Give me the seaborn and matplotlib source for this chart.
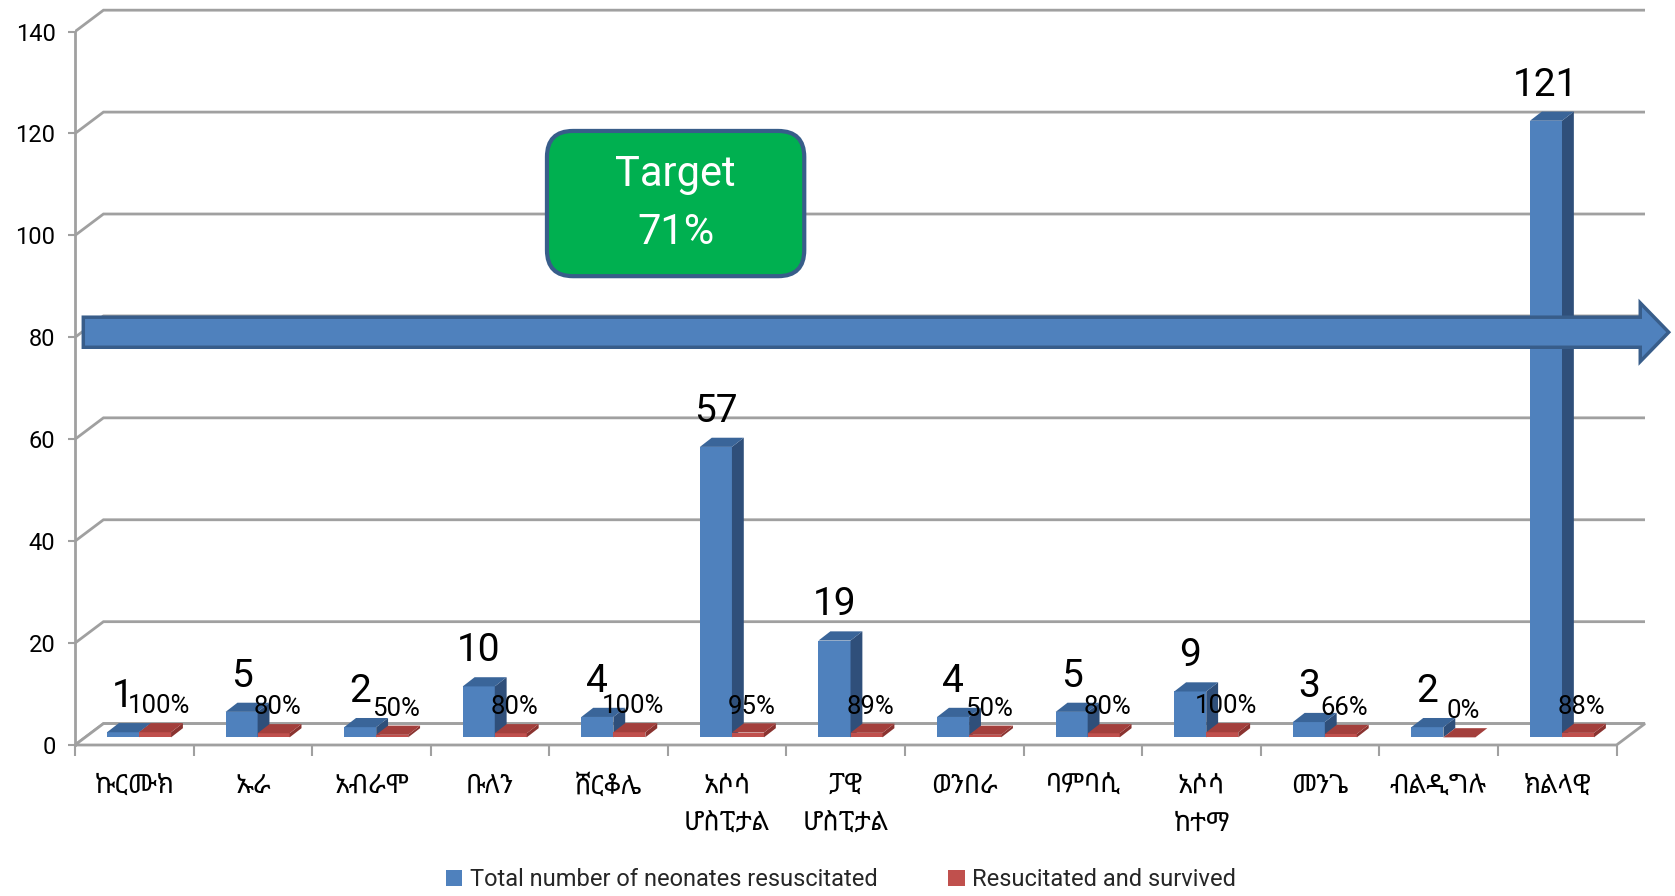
import numpy as np
import pandas as pd
import matplotlib
matplotlib.use("Agg")
import matplotlib.pyplot as plt
import seaborn as sns
from matplotlib import font_manager
from matplotlib.ft2font import FT2Font
from matplotlib.patches import Polygon, FancyBboxPatch, FancyArrow, Patch

# 데이터
sites = ["ኩርሙክ", "ኡራ", "አብራሞ", "ቡለን", "ሸርቆሌ", "አሶሳ\nሆስፒታል", "ፓዊ\nሆስፒታል",
         "ወንበራ", "ባምባሲ", "አሶሳ\nከተማ", "መንጌ", "ብልዲግሉ", "ክልላዊ"]
total_resuscitated = [1, 5, 2, 10, 4, 57, 19, 4, 5, 9, 3, 2, 121]
survived_pct = [100, 80, 50, 80, 100, 95, 89, 50, 80, 100, 66, 0, 88]
series_names = ["Total number of neonates resuscitated", "Resucitated and survived"]
y_ticks = [0, 20, 40, 60, 80, 100, 120, 140]
target_text = "Target\n71%"
target_level = 81

BLUE = "#4F81BD"
RED = "#C0504D"

# 글꼴: 에티오피아 문자 지원 글꼴 찾기 (고정폭 글꼴은 뒤로)
names = {f.name for f in font_manager.fontManager.ttflist}
main_font = "Liberation Sans Narrow" if "Liberation Sans Narrow" in names else "Roboto"
eth_candidates = []
for f in font_manager.fontManager.ttflist:
    try:
        if 0x12A0 in FT2Font(f.fname).get_charmap():
            eth_candidates.append(f.name)
    except Exception:
        pass
preferred = ["Noto Sans Ethiopic", "Abyssinica SIL", "FreeSans", "DejaVu Sans", "FreeSerif"]
eth_font = None
for p in preferred:
    if p in eth_candidates:
        eth_font = p
        break
if eth_font is None:
    non_mono = [c for c in eth_candidates if "Mono" not in c]
    if non_mono:
        eth_font = non_mono[0]
    elif eth_candidates:
        eth_font = eth_candidates[0]

sns.set_theme(style="white")
fam = [main_font] + ([eth_font] if eth_font else []) + ["DejaVu Sans"]
plt.rcParams["font.family"] = fam

df = pd.DataFrame({
    "site": sites * 2,
    "series": [series_names[0]] * len(sites) + [series_names[1]] * len(sites),
    "value": total_resuscitated + [p / 100 for p in survived_pct],
})

W, H = 1675, 896
fig = plt.figure(figsize=(W / 100, H / 100), dpi=100)
ax_l, ax_b = 75 / W, 1 - 745 / H
ax_w, ax_h = (1645 - 75) / W, 744 / H
ax = fig.add_axes([ax_l, ax_b, ax_w, ax_h])

sns.barplot(data=df, x="site", y="value", hue="series", palette=[BLUE, RED],
            width=0.54, saturation=1, legend=False, ax=ax, zorder=2)

n = len(sites)
DEPTH_X, DEPTH_Y = 0.24, 4.2   # 뒷벽 오프셋
BAR_DX, BAR_DY = 0.1, 1.8      # 막대 입체 깊이
BAR_BASE = 1.5                 # 바닥 중간에 놓인 막대
xlim = (-0.5, n - 0.5 + DEPTH_X)
ylim = (0, 146)
ax.set_xlim(*xlim)
ax.set_ylim(*ylim)

# 막대 입체 효과
faces = {0: ("#3A6599", "#2F4F7A"), 1: ("#A33F3C", "#8A3330")}
for k, cont in enumerate(ax.containers):
    top_c, side_c = faces[k]
    for bar in cont:
        bar.set_x(bar.get_x() + 0.04)
        bar.set_y(BAR_BASE)
        bar.set_edgecolor("none")
        bar.set_zorder(2 + k)
        x0, w, h = bar.get_x(), bar.get_width(), bar.get_height()
        y0, y1 = BAR_BASE, BAR_BASE + h
        side = Polygon([(x0 + w, y0), (x0 + w + BAR_DX, y0 + BAR_DY),
                        (x0 + w + BAR_DX, y1 + BAR_DY), (x0 + w, y1)],
                       closed=True, fc=side_c, ec="none", zorder=2 + k)
        top = Polygon([(x0, y1), (x0 + BAR_DX, y1 + BAR_DY),
                       (x0 + w + BAR_DX, y1 + BAR_DY), (x0 + w, y1)],
                      closed=True, fc=top_c, ec="none", zorder=2 + k)
        ax.add_patch(side)
        ax.add_patch(top)

# 값 레이블
for bar, v in zip(ax.containers[0], total_resuscitated):
    ax.text(bar.get_x() + bar.get_width() / 2, v + 8.5, str(v),
            ha="center", va="center", fontsize=28, color="black", zorder=7)
for bar, p in zip(ax.containers[1], survived_pct):
    ax.text(bar.get_x() + bar.get_width() / 2 + 0.03, p / 100 + 6.6, f"{p}%",
            ha="center", va="center", fontsize=18.5, color="black", zorder=7)

# 격자선(뒷벽)과 바닥
grid_c = "#A0A0A0"
for v in y_ticks:
    ax.plot([-0.5, -0.5 + DEPTH_X, n - 0.5 + DEPTH_X], [v, v + DEPTH_Y, v + DEPTH_Y],
            color=grid_c, lw=2, zorder=0.5, solid_joinstyle="miter")
floor = Polygon([(-0.5, 0), (n - 0.5, 0), (n - 0.5 + DEPTH_X, DEPTH_Y), (-0.5 + DEPTH_X, DEPTH_Y)],
                closed=True, fc="white", ec=grid_c, lw=2, zorder=0.6, clip_on=False)
ax.add_patch(floor)

# 축
for s in ["top", "right", "bottom"]:
    ax.spines[s].set_visible(False)
ax.spines["left"].set_color(grid_c)
ax.spines["left"].set_linewidth(2)
ax.spines["left"].set_bounds(0, 140)
ax.set_yticks(y_ticks)
ax.tick_params(axis="y", direction="out", length=5, width=1.5, color=grid_c,
               labelsize=17, labelcolor="black", pad=9, left=True)
ax.set_xticks(range(n))
ax.set_xticklabels(sites, linespacing=1.7)
ax.set_xticks(np.arange(-0.5, n, 1.0), minor=True)
ax.tick_params(axis="x", which="major", length=0, labelsize=19, labelcolor="black", pad=21)
ax.tick_params(axis="x", which="minor", direction="out", length=8, width=1.5,
               color=grid_c, bottom=True)
for lab in ax.get_xticklabels():
    lab.set_verticalalignment("top")
ax.set_xlabel("")
ax.set_ylabel("")
ax.grid(False)

# 목표 상자
aspect = ((ylim[1] - ylim[0]) / (ax_h * H)) / ((xlim[1] - xlim[0]) / (ax_w * W))
box = FancyBboxPatch((3.48, 92), 2.17, 28.5, boxstyle="round,pad=0,rounding_size=0.22",
                     mutation_aspect=aspect, fc="#00B050", ec="#385D8A", lw=3, zorder=6)
ax.add_patch(box)
ax.text(3.48 + 2.17 / 2, 92 + 28.5 / 2, target_text, ha="center", va="center",
        color="white", fontsize=30, linespacing=1.55, zorder=7)

# 목표 화살표
arrow = FancyArrow(-0.43, target_level, 13.37, 0, width=5.9, head_width=11.5,
                   head_length=0.24, length_includes_head=True, fc=BLUE,
                   ec="#385D8A", lw=2.5, zorder=6, clip_on=False)
ax.add_patch(arrow)

# 범례
handles = [Patch(fc=BLUE, ec="none"), Patch(fc=RED, ec="none")]
fig.legend(handles, series_names, loc="center", bbox_to_anchor=(0.502, 0.018),
           ncol=2, frameon=False, fontsize=17, handlelength=0.7, handleheight=0.7,
           handletextpad=0.3, columnspacing=3.0)

fig.savefig("out.png", dpi=100)
